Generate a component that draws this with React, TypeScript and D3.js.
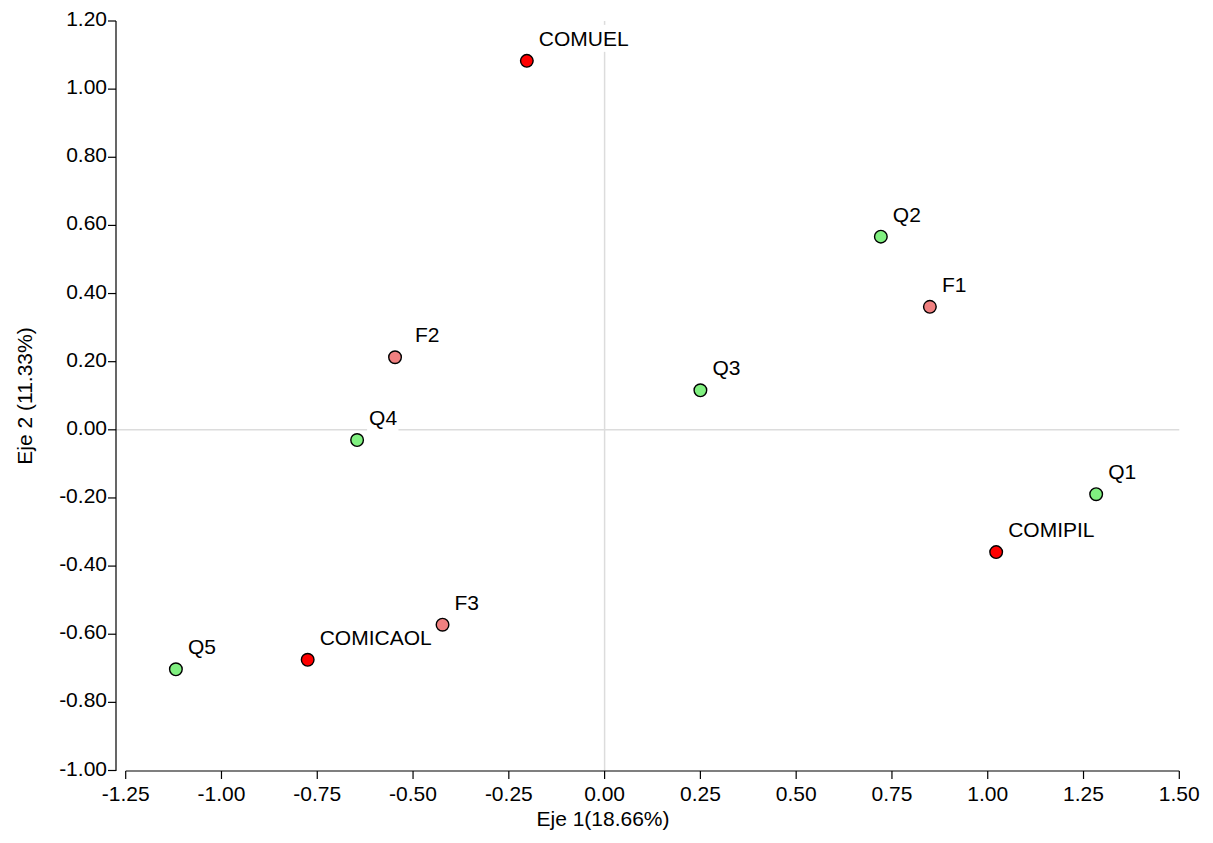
import React, { useEffect, useRef } from "react";
import * as d3 from "d3";

const labels = ["COMUEL", "Q2", "F1", "Q3", "F2", "Q4", "Q1", "COMIPIL", "F3", "COMICAOL", "Q5"];
const groups = ["COM", "Q", "F", "Q", "F", "Q", "Q", "COM", "F", "COM", "Q"];
const eje1 = [-0.203, 0.721, 0.849, 0.250, -0.547, -0.646, 1.283, 1.022, -0.423, -0.775, -1.119];
const eje2 = [1.083, 0.567, 0.361, 0.116, 0.213, -0.030, -0.189, -0.359, -0.572, -0.675, -0.703];

const xTicks = [-1.25, -1.0, -0.75, -0.5, -0.25, 0, 0.25, 0.5, 0.75, 1.0, 1.25, 1.5];
const yTicks = [-1.0, -0.8, -0.6, -0.4, -0.2, 0, 0.2, 0.4, 0.6, 0.8, 1.0, 1.2];

const groupColors: Record<string, string> = { COM: "#ff0000", F: "#f08080", Q: "#80f080" };

const W = 1213;
const H = 843;
const FONT = "'Liberation Sans', Arial, sans-serif";
const fmt = (v: number) => v.toFixed(2);

export default function App() {
  const ref = useRef<SVGSVGElement | null>(null);

  useEffect(() => {
    const svg = d3.select(ref.current);
    svg.selectAll("*").remove();

    const x = d3.scaleLinear().domain([-1.25, 1.5]).range([125.7, 1179.3]);
    const y = d3.scaleLinear().domain([-1.0, 1.2]).range([770.5, 21]);
    const yAxisX = 116;
    const xAxisY = 771;

    // zero lines
    svg.append("line")
      .attr("x1", x(0)).attr("x2", x(0)).attr("y1", y(1.2)).attr("y2", xAxisY)
      .attr("stroke", "#dcdcdc").attr("stroke-width", 1.5);
    svg.append("line")
      .attr("x1", yAxisX).attr("x2", x(1.5)).attr("y1", y(0)).attr("y2", y(0))
      .attr("stroke", "#dcdcdc").attr("stroke-width", 1.5);

    // y axis
    svg.append("line")
      .attr("x1", yAxisX).attr("x2", yAxisX).attr("y1", y(1.2)).attr("y2", xAxisY)
      .attr("stroke", "#000").attr("stroke-width", 1.2);
    const yg = svg.append("g");
    yTicks.forEach((t) => {
      yg.append("line")
        .attr("x1", yAxisX - 8).attr("x2", yAxisX).attr("y1", y(t)).attr("y2", y(t))
        .attr("stroke", "#000").attr("stroke-width", 1.2);
      yg.append("text")
        .attr("x", yAxisX - 9).attr("y", y(t) + 5)
        .attr("text-anchor", "end")
        .attr("font-family", FONT).attr("font-size", 21)
        .attr("fill", "#000")
        .text(fmt(t));
    });

    // x axis
    svg.append("line")
      .attr("x1", x(-1.25)).attr("x2", x(1.5)).attr("y1", xAxisY).attr("y2", xAxisY)
      .attr("stroke", "#000").attr("stroke-width", 1.2);
    const xg = svg.append("g");
    xTicks.forEach((t) => {
      xg.append("line")
        .attr("x1", x(t)).attr("x2", x(t)).attr("y1", xAxisY).attr("y2", xAxisY + 8)
        .attr("stroke", "#000").attr("stroke-width", 1.2);
      xg.append("text")
        .attr("x", x(t)).attr("y", 801)
        .attr("text-anchor", "middle")
        .attr("font-family", FONT).attr("font-size", 21)
        .attr("fill", "#000")
        .text(fmt(t));
    });

    // axis titles
    svg.append("text")
      .attr("x", 603).attr("y", 826)
      .attr("text-anchor", "middle")
      .attr("font-family", FONT).attr("font-size", 21)
      .text("Eje 1(18.66%)");
    svg.append("text")
      .attr("transform", `translate(32, ${(y(1.2) + xAxisY) / 2}) rotate(-90)`)
      .attr("text-anchor", "middle")
      .attr("font-family", FONT).attr("font-size", 21)
      .text("Eje 2 (11.33%)");

    // labels with white background
    const lg = svg.append("g");
    labels.forEach((lab, i) => {
      const g = lg.append("g");
      const rect = g.append("rect").attr("fill", "#fff");
      const dx = lab === "F2" ? 20 : 12;
      const txt = g.append("text")
        .attr("x", x(eje1[i]) + dx).attr("y", y(eje2[i]) - 15)
        .attr("font-family", FONT).attr("font-size", 21)
        .attr("fill", "#000")
        .text(lab);
      const bb = (txt.node() as SVGTextElement).getBBox();
      rect.attr("x", bb.x - 2).attr("y", bb.y - 2).attr("width", bb.width + 3).attr("height", bb.height + 4);
    });

    // points
    const pg = svg.append("g");
    labels.forEach((_, i) => {
      pg.append("circle")
        .attr("cx", x(eje1[i])).attr("cy", y(eje2[i])).attr("r", 6.3)
        .attr("fill", groupColors[groups[i]])
        .attr("stroke", "#000").attr("stroke-width", 1.4);
    });
  }, []);

  return (
    <svg
      ref={ref}
      width={W}
      height={H}
      style={{ position: "absolute", left: 0, top: 0, background: "#fff", display: "block" }}
    />
  );
}
